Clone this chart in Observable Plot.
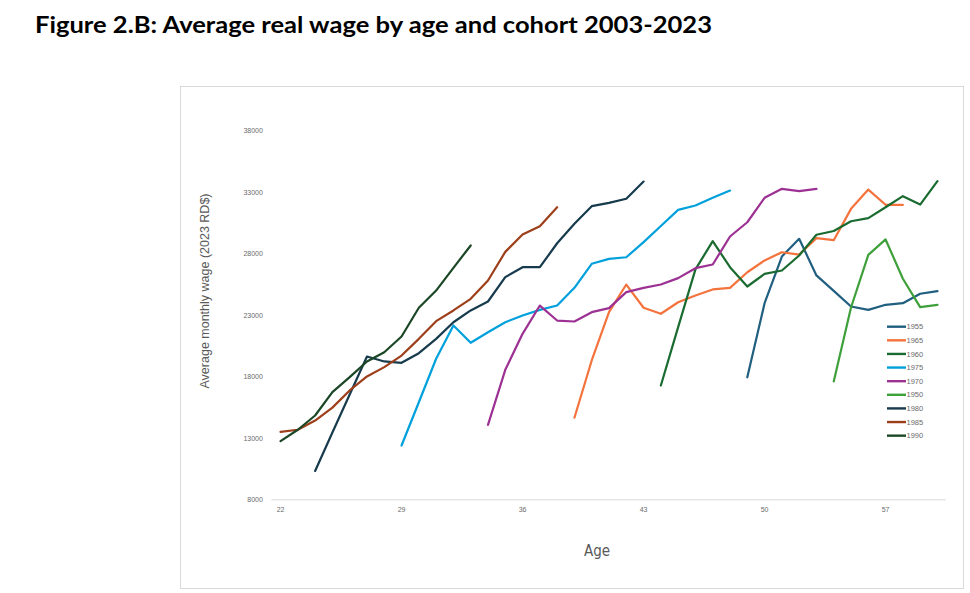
<!DOCTYPE html>
<html>
<head>
<meta charset="utf-8">
<script src="https://cdn.jsdelivr.net/npm/d3@7"></script>
<script src="https://cdn.jsdelivr.net/npm/@observablehq/plot@0.6"></script>
<style>
  html, body { margin: 0; padding: 0; background: #fff; }
  #wrap { position: relative; width: 970px; height: 593px; overflow: hidden; }
  #frame { position: absolute; left: 180px; top: 86px; width: 782px; height: 501px; border: 1px solid #d9d9d9; box-sizing: content-box; }
  #chart { position: absolute; left: 0; top: 0; }
  .overlay { position: absolute; left: 0; top: 0; pointer-events: none; }
</style>
</head>
<body>
<div id="wrap">
  <div id="frame"></div>
  <div id="chart"></div>
  <svg class="overlay" width="970" height="593" id="over"></svg>
</div>
<script>
// ---- data ----
const cohorts = ["1955", "1965", "1960", "1975", "1970", "1950", "1980", "1985", "1990"];
const colors  = ["#215f80", "#f4733d", "#1a6b30", "#00a0dc", "#9c3193", "#3ea03a", "#173b4d", "#9e3f1b", "#1b4726"];
const startAges = [49, 39, 44, 29, 34, 54, 24, 22, 22];

const w1955 = [17970, 24000, 27800, 29240, 26260, 25010, 23730, 23460, 23870, 24000, 24770, 24980];
const w1965 = [14680, 19340, 23270, 25520, 23630, 23140, 24080, 24630, 25120, 25250, 26520, 27480, 28150, 27960, 29290, 29130, 31680, 33250, 32010, 32010];
const w1960 = [17300, 22050, 26750, 29050, 26930, 25360, 26390, 26660, 27880, 29570, 29880, 30670, 30920, 31810, 32710, 32030, 33930];
const w1975 = [12420, 15940, 19480, 22190, 20780, 21640, 22450, 23000, 23460, 23810, 25250, 27210, 27610, 27740, 28970, 30280, 31600, 31950, 32580, 33170];
const w1970 = [14100, 18580, 21510, 23810, 22590, 22510, 23270, 23600, 24900, 25250, 25520, 26040, 26850, 27150, 29430, 30590, 32580, 33310, 33120, 33310];
const w1950 = [17630, 23650, 27940, 29190, 25990, 23680, 23870];
const w1980 = [10350, 13480, 16570, 19660, 19260, 19150, 19930, 21100, 22450, 23410, 24140, 26120, 26930, 26930, 28880, 30460, 31900, 32170, 32500, 33900];
const w1985 = [13530, 13700, 14450, 15500, 16900, 18040, 18800, 19740, 21100, 22540, 23410, 24360, 25850, 28180, 29590, 30270, 31810];
const w1990 = [12770, 13700, 14860, 16760, 17980, 19260, 20010, 21290, 23630, 25030, 26880, 28700];

const xTicks = [22, 29, 36, 43, 50, 57];
const yTicks = [8000, 13000, 18000, 23000, 28000, 33000, 38000];

const titleText = "Figure 2.B: Average real wage by age and cohort 2003-2023";
const yTitle = "Average monthly wage (2023 RD$)";
const xTitle = "Age";

// ---- build long table ----
const seriesValues = [w1955, w1965, w1960, w1975, w1970, w1950, w1980, w1985, w1990];
const rows = [];
cohorts.forEach((c, i) => {
  seriesValues[i].forEach((v, j) => rows.push({cohort: c, age: startAges[i] + j, wage: v}));
});

const chart = Plot.plot({
  width: 970,
  height: 593,
  marginLeft: 271.4,
  marginRight: 24.4,
  marginTop: 130.7,
  marginBottom: 93.7,
  style: {fontFamily: "'Liberation Sans', Arial, sans-serif", fontSize: "7px", color: "#6b6b6b", background: "transparent"},
  x: {domain: [21.5, 60.5], ticks: xTicks, tickSize: 0, tickPadding: 7, label: null, tickFormat: d => String(d)},
  y: {domain: [8000, 38000], ticks: yTicks, tickSize: 0, tickPadding: 9, label: null, tickFormat: d => String(d)},
  color: {domain: cohorts, range: colors},
  marks: [
    Plot.ruleY([8000], {stroke: "#d9d9d9", strokeWidth: 1}),
    Plot.line(rows, {x: "age", y: "wage", z: "cohort", stroke: "cohort", strokeWidth: 2.2, strokeLinejoin: "round", curve: "linear"})
  ]
});
document.getElementById("chart").appendChild(chart);

// ---- overlay texts & legend ----
const over = d3.select("#over");
over.append("text")
  .attr("x", 35).attr("y", 33)
  .attr("font-family", "Lato, 'Open Sans', sans-serif")
  .attr("font-weight", "bold")
  .attr("font-size", 23)
  .attr("fill", "#000")
  .attr("textLength", 677)
  .attr("lengthAdjust", "spacingAndGlyphs")
  .text(titleText);

over.append("text")
  .attr("transform", "translate(209,291) rotate(-90)")
  .attr("text-anchor", "middle")
  .attr("font-family", "'Liberation Sans', Arial, sans-serif")
  .attr("font-size", 12.5)
  .attr("fill", "#595959")
  .text(yTitle);

over.append("text")
  .attr("x", 597).attr("y", 556)
  .attr("text-anchor", "middle")
  .attr("font-family", "'Liberation Sans Narrow', 'DejaVu Sans Condensed', sans-serif")
  .attr("font-size", 15)
  .attr("fill", "#595959")
  .text(xTitle);

const leg = over.append("g");
cohorts.forEach((c, i) => {
  const y = 326.7 + i * 13.62;
  leg.append("line").attr("x1", 887).attr("x2", 906).attr("y1", y).attr("y2", y)
    .attr("stroke", colors[i]).attr("stroke-width", 2.4);
  leg.append("text").attr("x", 906.5).attr("y", y).attr("dy", "0.35em")
    .attr("font-family", "'Liberation Sans', Arial, sans-serif")
    .attr("font-size", 7.5).attr("fill", "#6b6b6b").text(c);
});
</script>
</body>
</html>
